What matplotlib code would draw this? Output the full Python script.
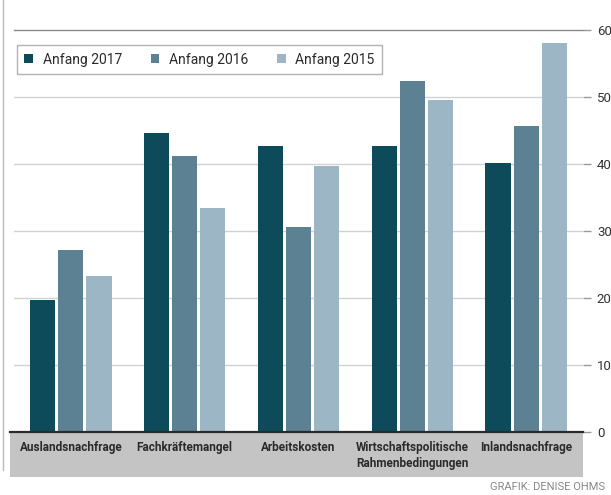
import numpy as np
import matplotlib
matplotlib.use('Agg')
import matplotlib.pyplot as plt
from matplotlib.patches import Rectangle

plt.rcParams['font.family'] = ['Liberation Sans Narrow', 'Roboto', 'DejaVu Sans']

categories = ['Auslandsnachfrage', 'Fachkräftemangel', 'Arbeitskosten',
              'Wirtschaftspolitische\nRahmenbedingungen', 'Inlandsnachfrage']
series = ['Anfang 2017', 'Anfang 2016', 'Anfang 2015']
v2017 = [19.7, 44.6, 42.7, 42.7, 40.2]
v2016 = [27.2, 41.2, 30.6, 52.4, 45.6]
v2015 = [23.3, 33.5, 39.7, 49.6, 58.0]
yticks = [0, 10, 20, 30, 40, 50, 60]

colors = ['#0e4b5a', '#5b8193', '#9db6c5']

fig = plt.figure(figsize=(6.11, 4.95), dpi=100)
ax = fig.add_axes([14/611, 63/495, 569/611, 402/495])

x = np.arange(len(categories))
w = 0.22
off = 0.247
for i, (vals, lab) in enumerate(zip([v2017, v2016, v2015], series)):
    ax.bar(x + (i - 1)*off, vals, w, color=colors[i], label=lab, zorder=3)

ax.set_xlim(-0.5, 4.5)
ax.set_ylim(0, 60)
ax.set_yticks(yticks)
ax.yaxis.tick_right()
ax.tick_params(axis='y', length=6, width=1, color='#9a9a9a', pad=4,
               labelsize=9.5, labelcolor='#333333')
ax.tick_params(axis='x', length=0, labelbottom=False)
for yv in yticks[1:-1]:
    ax.axhline(yv, color='#d2d2d2', lw=1, zorder=1)
ax.axhline(60, color='#8a8a8a', lw=1, zorder=1, clip_on=False)
for s in ax.spines.values():
    s.set_visible(False)

# grey label band under the axis
band = Rectangle((-0.007, -0.112), 1.007, 0.112, transform=ax.transAxes,
                 facecolor='#c4c4c4', edgecolor='none', clip_on=False, zorder=0)
ax.add_patch(band)
ax.plot([-0.007, 1.0], [0, 0], transform=ax.transAxes, color='#2a2a2a',
        lw=1.6, zorder=4, clip_on=False)
for xi, c in zip(x, categories):
    ax.text(xi, -1.3, c, ha='center', va='top', fontsize=8.5, fontweight='bold',
            color='#2a2a2a', linespacing=1.3)

leg = ax.legend(loc='upper left', bbox_to_anchor=(0.005, 0.963), ncol=3,
                borderaxespad=0, frameon=True, fancybox=False, fontsize=10,
                handlelength=0.6, handleheight=0.6, handletextpad=0.7,
                columnspacing=2.1, borderpad=0.55)
leg.get_frame().set_edgecolor('#a0a0a0')
leg.get_frame().set_linewidth(1)
for t in leg.get_texts():
    t.set_color('#2a2a2a')

fig.add_artist(plt.Line2D([3/611, 3/611], [0.05, 1.0], color='#bbbbbb', lw=1))
fig.text(605/611, 8/495, 'GRAFIK: DENISE OHMS', ha='right', va='center',
         fontsize=8, color='#888888')

fig.savefig('out.png', dpi=100)
